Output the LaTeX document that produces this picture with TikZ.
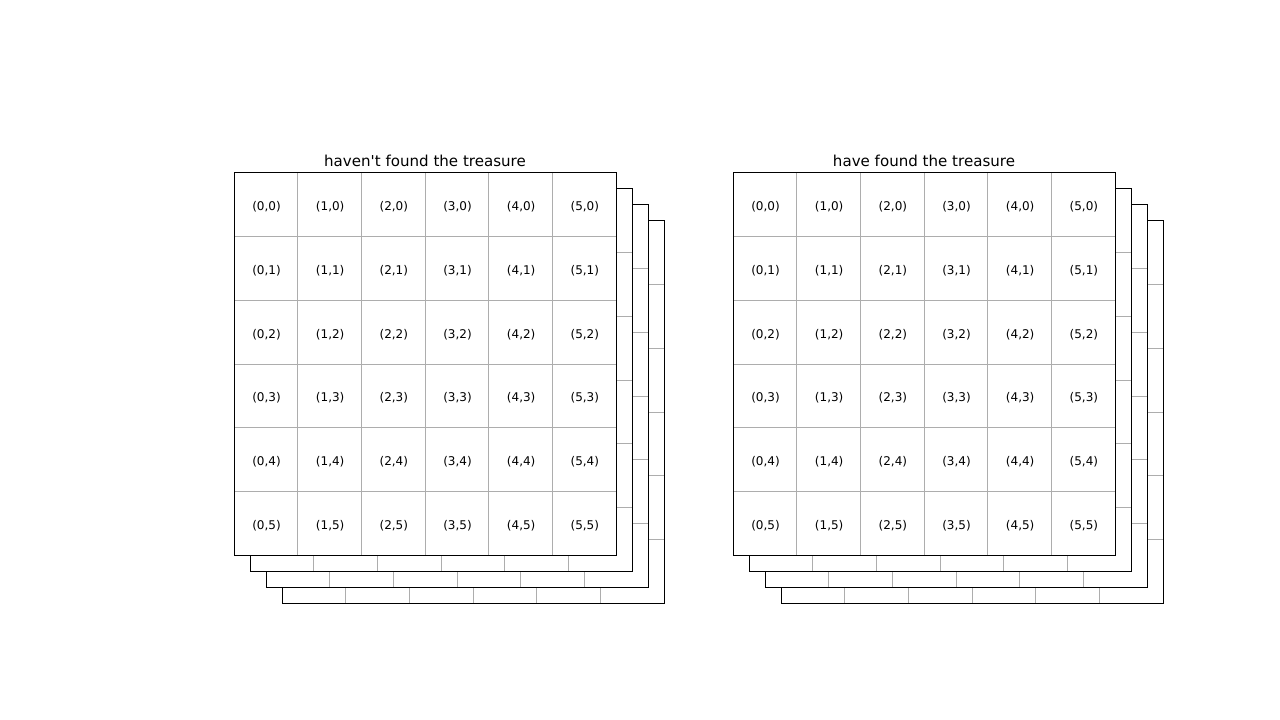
\documentclass[tikz,border=0pt]{standalone}
\usepackage{fontspec}
\setmainfont{DejaVu Sans}
\begin{document}
\begin{tikzpicture}[x=0.75pt,y=-0.75pt,
  frame/.style={draw=black,line width=0.75pt},
  gridline/.style={draw=black!32,line width=0.6pt},
  cell/.style={font=\fontsize{9}{10}\selectfont,inner sep=0pt},
  title/.style={font=\fontsize{11.3}{13}\selectfont,inner sep=0pt}]
\useasboundingbox (0,0) rectangle (1280,720);
% two stacks of 6x6 boards, back boards first
\foreach \bx/\side/\ttl in {234/left/{haven\textquotesingle t found the treasure},733/right/{have found the treasure}} {
  \foreach \k in {3,2,1,0} {
    \pgfmathsetmacro{\ox}{\bx+16*\k}
    \pgfmathsetmacro{\oy}{173+16*\k}
    \fill[white] (\ox,\oy) rectangle ++(382,382);
    \foreach \i in {1,...,5} {
      \draw[gridline] (\ox+63.667*\i,\oy) -- ++(0,382);
      \draw[gridline] (\ox,\oy+63.667*\i) -- ++(382,0);
    }
    \draw[frame] (\ox,\oy) rectangle ++(382,382);
  }
  \foreach \i in {0,...,5}
    \foreach \j in {0,...,5}
      \node[cell] (\side-\i-\j) at (\bx+63.667*\i+32.5,173+63.667*\j+34) {(\i,\j)};
  \node[title] (\side-title) at (\bx+191,161) {\ttl};
}
\end{tikzpicture}
\end{document}
